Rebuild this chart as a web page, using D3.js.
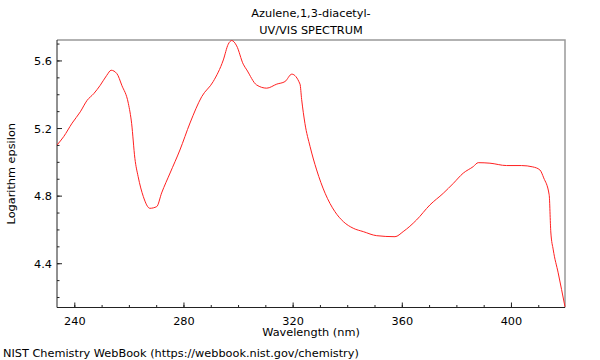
<!DOCTYPE html>
<html><head><meta charset="utf-8">
<script src="https://cdn.jsdelivr.net/npm/d3@7/dist/d3.min.js"></script>
<style>body{margin:0;background:#fff}svg{display:block}text{font-family:"DejaVu Sans",sans-serif;font-size:11.3px;fill:#000}</style>
</head><body>
<svg id="c" width="600" height="360"></svg>
<script>
const titleLines = ["Azulene,1,3-diacetyl-", "UV/VIS SPECTRUM"];
const xLabel = "Wavelength (nm)";
const yLabel = "Logarithm epsilon";
const footer = "NIST Chemistry WebBook (https://webbook.nist.gov/chemistry)";
const xTicks = [240, 280, 320, 360, 400];
const yTicks = [4.4, 4.8, 5.2, 5.6];
const wavelength = [233.7,236.1,239.2,242.2,244.7,247.1,249.5,251.9,253.5,255.6,257.4,259.8,261.0,262.2,263.4,265.3,267.7,270.2,272.0,275.1,278.7,282.4,286.7,290.9,294.6,296.4,297.7,299.5,301.9,303.2,306.8,310.5,314.2,317.2,319.7,322.7,323.3,324.5,326.4,328.8,331.9,335.5,338.6,342.2,345.9,350.8,357.5,360.5,365.4,370.3,375.2,378.9,382.5,386.2,388.0,392.3,398.4,403.9,408.0,410.6,412.0,414.0,414.6,415.5,417.3,419.8];
const logEps = [5.100,5.149,5.229,5.296,5.364,5.403,5.453,5.512,5.542,5.522,5.453,5.346,5.228,5.020,4.912,4.794,4.725,4.735,4.816,4.934,5.070,5.230,5.386,5.475,5.603,5.696,5.718,5.686,5.578,5.544,5.455,5.436,5.460,5.475,5.519,5.460,5.370,5.228,5.090,4.952,4.814,4.705,4.646,4.607,4.587,4.563,4.557,4.587,4.656,4.745,4.814,4.873,4.933,4.972,4.995,4.992,4.978,4.978,4.970,4.952,4.905,4.805,4.585,4.479,4.343,4.142];

const L = 57, R = 565, T = 40, B = 307.5;
const svg = d3.select("#c");
const x = d3.scaleLinear().domain([233.66, 419.8]).range([L, R]);
const y = d3.scaleLinear().domain([4.138, 5.721]).range([B, T]);

svg.append("path").attr("d", `M${L},${T}H${R}V${B}`).attr("fill","none").attr("stroke","#999").attr("stroke-width",1.5);

const minorX = d3.range(240, 420, 10);
const minorY = d3.range(4.2, 5.75, 0.1);
const gx = svg.append("g").attr("transform", `translate(0,${B})`);
gx.call(d3.axisTop(x).tickValues(minorX).tickSize(2.5).tickFormat(""));
gx.select(".domain").remove();
const gx2 = svg.append("g").attr("transform", `translate(0,${B})`);
gx2.call(d3.axisTop(x).tickValues(xTicks).tickSize(5).tickFormat(""));
gx2.select(".domain").remove();
gx2.selectAll(".tick").append("text").attr("y", 17).attr("text-anchor","middle").text(d=>d);
svg.append("line").attr("x1",L).attr("x2",R).attr("y1",B).attr("y2",B).attr("stroke","#222");

const gy = svg.append("g").attr("transform", `translate(${L},0)`);
gy.call(d3.axisRight(y).tickValues(minorY).tickSize(2.5).tickFormat(""));
gy.select(".domain").remove();
const gy2 = svg.append("g").attr("transform", `translate(${L},0)`);
gy2.call(d3.axisRight(y).tickValues(yTicks).tickSize(5).tickFormat(""));
gy2.select(".domain").remove();
gy2.selectAll(".tick").append("text").attr("x", -5).attr("dy","0.35em").attr("text-anchor","end").text(d=>d.toFixed(1));
svg.append("line").attr("x1",L).attr("x2",L).attr("y1",T).attr("y2",B).attr("stroke","#222");
svg.selectAll(".tick line").attr("stroke","#222");

const data = wavelength.map((w,i)=>[w, logEps[i]]);
svg.append("path").datum(data).attr("fill","none").attr("stroke","#ff2020").attr("stroke-width",1)
  .attr("d", d3.line().x(d=>x(d[0])).y(d=>y(d[1])).curve(d3.curveMonotoneX));

svg.selectAll(".title").data(titleLines).enter().append("text")
  .attr("x", (L+R)/2).attr("y",(d,i)=>17+i*17).attr("text-anchor","middle").text(d=>d);
svg.append("text").attr("x",(L+R)/2).attr("y",336).attr("text-anchor","middle").text(xLabel);
svg.append("text").attr("transform",`translate(15,${(T+B)/2}) rotate(-90)`).attr("text-anchor","middle").text(yLabel);
svg.append("text").attr("x",3).attr("y",357).text(footer);
</script>
</body></html>
